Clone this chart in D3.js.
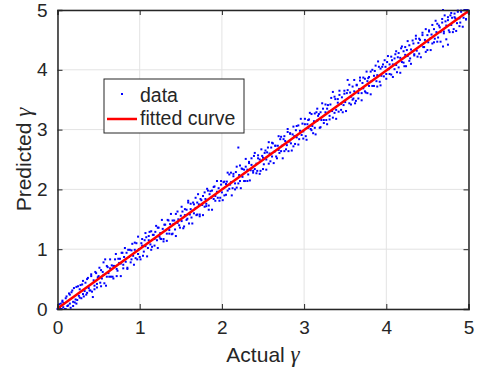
<!DOCTYPE html>
<html>
<head>
<meta charset="utf-8">
<script src="https://cdn.jsdelivr.net/npm/d3@7"></script>
<style>
  body { margin: 0; background: #fff; }
  text { font-family: "Liberation Sans", Arial, sans-serif; fill: #262626; }
</style>
</head>
<body>
<div id="chart"></div>
<script>
// scatter data (two passes over the band, by half-unit of actual γ)
const actualVals = [
  0.00,0.01,0.02,0.02,0.03,0.05,0.06,0.07,0.08,0.10,0.11,0.12,0.14,0.15,0.16,0.18,0.19,0.20,0.22,0.23,0.25,0.26,0.27,0.29,0.30,0.31,0.33,0.34,0.36,0.37,0.38,0.40,0.41,0.43,0.44,0.45,0.47,0.48,0.49,
  0.50,0.52,0.53,0.54,0.56,0.57,0.58,0.60,0.61,0.62,0.64,0.65,0.66,0.68,0.69,0.70,0.72,0.73,0.75,0.76,0.77,0.79,0.80,0.81,0.83,0.84,0.85,0.87,0.88,0.90,0.91,0.92,0.94,0.95,0.96,0.98,0.99,
  1.00,1.02,1.03,1.04,1.06,1.07,1.08,1.10,1.11,1.13,1.14,1.15,1.17,1.18,1.19,1.21,1.22,1.24,1.25,1.26,1.28,1.29,1.30,1.32,1.33,1.35,1.36,1.37,1.39,1.40,1.41,1.43,1.44,1.46,1.47,1.48,
  1.50,1.51,1.52,1.54,1.55,1.57,1.58,1.59,1.61,1.62,1.63,1.65,1.66,1.68,1.69,1.70,1.72,1.73,1.74,1.76,1.77,1.79,1.80,1.81,1.83,1.84,1.85,1.87,1.88,1.90,1.91,1.92,1.94,1.95,1.96,1.98,1.99,
  2.00,2.02,2.03,2.05,2.06,2.07,2.09,2.10,2.11,2.13,2.14,2.16,2.17,2.18,2.20,2.21,2.22,2.24,2.25,2.27,2.28,2.29,2.31,2.32,2.33,2.35,2.36,2.38,2.39,2.40,2.42,2.43,2.44,2.46,2.47,2.49,
  2.50,2.51,2.53,2.54,2.55,2.57,2.58,2.60,2.61,2.62,2.64,2.65,2.66,2.68,2.69,2.71,2.72,2.73,2.75,2.76,2.77,2.79,2.80,2.82,2.83,2.84,2.86,2.87,2.88,2.90,2.91,2.93,2.94,2.95,2.97,2.98,2.99,
  3.01,3.02,3.04,3.05,3.06,3.08,3.09,3.10,3.12,3.13,3.15,3.16,3.17,3.19,3.20,3.21,3.23,3.24,3.26,3.27,3.28,3.30,3.31,3.32,3.34,3.35,3.37,3.38,3.39,3.41,3.42,3.43,3.45,3.46,3.48,3.49,
  3.50,3.52,3.53,3.55,3.56,3.57,3.59,3.60,3.61,3.63,3.64,3.66,3.67,3.68,3.70,3.71,3.72,3.74,3.75,3.77,3.78,3.79,3.81,3.82,3.83,3.85,3.86,3.88,3.89,3.90,3.92,3.93,3.94,3.96,3.97,3.99,
  4.00,4.01,4.03,4.04,4.06,4.07,4.08,4.10,4.11,4.12,4.14,4.15,4.17,4.18,4.19,4.21,4.22,4.23,4.25,4.26,4.28,4.29,4.30,4.32,4.33,4.34,4.36,4.37,4.39,4.40,4.41,4.43,4.44,4.45,4.47,4.48,
  4.50,4.51,4.52,4.54,4.55,4.56,4.58,4.59,4.61,4.62,4.63,4.65,4.66,4.68,4.69,4.69,4.70,4.72,4.73,4.75,4.75,4.76,4.78,4.79,4.80,4.82,4.83,4.84,4.86,4.87,4.89,4.90,4.91,4.93,4.94,4.96,4.97,4.98,5.00
];
const predictedVals = [
  0.00,0.04,0.00,0.08,0.02,0.00,0.12,0.03,0.10,0.00,0.21,0.05,0.26,0.09,0.02,0.31,0.12,0.35,0.16,0.09,0.38,0.22,0.33,0.18,0.41,0.25,0.30,0.44,0.27,0.52,0.35,0.31,0.55,0.20,0.48,0.39,0.60,0.42,0.53,
  0.55,0.44,0.65,0.51,0.57,0.43,0.83,0.54,0.70,0.60,0.68,0.54,0.73,0.51,0.72,0.83,0.67,0.64,0.77,0.84,0.76,0.94,0.68,0.87,0.79,0.94,0.69,0.87,0.99,0.83,1.09,0.89,0.99,0.85,1.10,0.92,1.00,
  0.87,1.10,1.06,0.89,1.15,1.05,1.20,1.02,1.15,1.08,1.30,1.04,1.24,1.17,1.29,1.15,1.36,1.21,1.27,1.17,1.34,1.17,1.41,1.32,1.26,1.48,1.32,1.42,1.25,1.48,1.42,1.33,1.59,1.44,1.50,1.40,
  1.56,1.47,1.63,1.38,1.57,1.66,1.51,1.78,1.58,1.67,1.53,1.78,1.60,1.69,1.57,1.78,1.75,1.55,1.84,1.74,1.89,1.71,1.84,1.76,1.98,1.73,1.92,1.86,1.98,1.84,2.05,1.89,1.96,1.86,2.02,1.86,2.08,
  1.95,2.12,1.90,2.09,2.13,1.98,2.25,2.08,2.12,2.02,2.22,2.10,2.29,2.03,2.70,2.24,2.14,2.35,2.21,2.33,2.14,2.38,2.33,2.25,2.46,2.32,2.41,2.28,2.56,2.34,2.43,2.31,2.52,2.50,2.31,2.56,
  2.53,2.42,2.65,2.50,2.62,2.43,2.60,2.70,2.55,2.77,2.63,2.73,2.55,2.73,2.66,2.84,2.64,2.73,2.84,2.64,2.81,2.74,2.96,2.80,2.94,2.77,2.92,2.72,2.89,2.99,2.87,3.07,2.84,2.98,2.91,3.10,2.97,
  3.09,2.89,3.09,3.03,3.17,3.01,3.26,3.06,3.14,3.03,3.29,3.15,3.23,3.03,3.29,3.16,3.35,3.16,3.29,3.16,3.35,3.30,3.17,3.42,3.31,3.63,3.28,3.51,3.33,3.45,3.30,3.58,3.43,3.54,3.41,3.60,
  3.46,3.61,3.83,3.44,3.62,3.55,3.72,3.52,3.64,3.48,3.74,3.61,3.68,3.82,3.61,3.78,3.69,3.85,3.62,3.81,3.86,3.73,3.97,3.81,3.73,3.90,3.98,3.81,3.91,4.14,3.80,4.02,3.90,4.09,3.89,4.05,
  3.93,4.13,4.01,4.09,3.92,4.16,4.09,4.01,4.26,4.08,4.21,4.04,4.20,4.36,4.13,4.31,4.06,4.25,4.33,4.23,4.41,4.19,4.34,4.31,4.44,4.26,4.52,4.32,4.45,4.27,4.50,4.41,4.58,4.38,4.50,4.30,
  4.58,4.46,4.64,4.53,4.59,4.44,4.68,4.52,4.63,4.77,4.54,4.71,4.63,4.79,4.39,5.00,4.64,4.81,4.74,4.42,4.83,4.66,4.91,4.75,4.87,4.68,4.88,4.86,4.78,4.97,4.86,4.79,4.97,4.92,4.87,5.00,4.85,5.00,4.95
];
const actualVals2 = [
  0.01,0.03,0.04,0.06,0.09,0.10,0.13,0.15,0.17,0.19,0.21,0.23,0.24,0.27,0.28,0.31,0.32,0.35,0.36,0.39,0.41,0.42,0.45,0.46,0.48,
  0.51,0.53,0.55,0.56,0.59,0.60,0.63,0.64,0.67,0.68,0.71,0.72,0.74,0.77,0.78,0.80,0.82,0.85,0.86,0.89,0.90,0.93,0.94,0.97,0.98,
  1.01,1.03,1.05,1.07,1.09,1.11,1.12,1.14,1.16,1.18,1.20,1.22,1.23,1.25,1.27,1.29,1.31,1.33,1.34,1.36,1.38,1.40,1.42,1.44,1.46,
  1.49,1.51,1.53,1.55,1.57,1.59,1.60,1.62,1.64,1.66,1.68,1.70,1.71,1.73,1.75,1.77,1.79,1.81,1.82,1.84,1.86,1.88,1.90,1.92,1.94,1.97,
  1.99,2.01,2.03,2.05,2.07,2.09,2.11,2.12,2.14,2.16,2.18,2.20,2.22,2.23,2.25,2.27,2.29,2.31,2.33,2.34,2.36,2.38,2.40,2.42,2.44,2.46,
  2.48,2.50,2.52,2.54,2.56,2.57,2.59,2.61,2.63,2.65,2.67,2.69,2.70,2.72,2.74,2.76,2.78,2.80,2.81,2.83,2.85,2.87,2.89,2.91,2.93,2.96,
  2.99,3.01,3.03,3.05,3.07,3.09,3.11,3.13,3.14,3.16,3.18,3.20,3.22,3.24,3.26,3.28,3.29,3.31,3.33,3.35,3.37,3.39,3.41,3.43,3.45,3.47,
  3.49,3.51,3.53,3.55,3.57,3.59,3.61,3.62,3.64,3.66,3.68,3.70,3.72,3.74,3.76,3.77,3.79,3.81,3.83,3.85,3.87,3.89,3.91,3.93,3.95,3.98,
  4.00,4.02,4.04,4.06,4.08,4.10,4.12,4.13,4.15,4.17,4.19,4.21,4.23,4.24,4.26,4.28,4.30,4.32,4.34,4.36,4.38,4.40,4.42,4.44,4.46,4.48,
  4.50,4.52,4.54,4.56,4.58,4.60,4.62,4.64,4.66,4.68,4.70,4.71,4.73,4.75,4.77,4.79,4.81,4.83,4.85,4.87,4.89,4.91,4.93,4.95,4.97,4.99
];
const predictedVals2 = [
  0.02,0.00,0.09,0.14,0.00,0.18,0.06,0.24,0.28,0.05,0.11,0.37,0.15,0.19,0.40,0.47,0.21,0.24,0.50,0.31,0.58,0.29,0.33,0.62,0.36,
  0.69,0.38,0.62,0.78,0.39,0.72,0.54,0.83,0.54,0.72,0.92,0.55,0.84,0.55,0.94,0.74,1.02,0.67,0.99,0.78,0.98,0.74,1.11,0.83,1.21,
  0.83,1.17,0.96,1.27,0.88,1.22,1.29,0.99,1.24,1.06,1.39,1.02,1.36,1.18,1.49,1.13,1.41,1.14,1.49,1.26,1.59,1.26,1.48,1.22,1.63,
  1.36,1.71,1.35,1.67,1.49,1.81,1.43,1.76,1.43,1.75,1.86,1.58,1.92,1.58,1.82,1.57,1.95,1.72,2.01,1.66,1.97,1.66,2.04,1.81,2.14,1.81,
  2.14,1.82,2.13,1.91,2.28,2.01,2.28,1.90,2.26,2.00,2.38,2.10,2.40,2.02,2.34,2.14,2.51,2.14,2.44,2.15,2.52,2.31,2.61,2.27,2.57,2.26,
  2.67,2.34,2.61,2.33,2.70,2.79,2.47,2.78,2.44,2.73,2.52,2.89,2.61,2.88,2.52,2.89,2.67,3.01,2.64,2.93,2.65,3.05,2.76,3.06,2.75,3.18,
  2.85,3.18,2.83,3.16,3.28,2.99,2.94,3.27,2.92,3.35,3.26,3.04,3.44,3.11,3.42,3.09,3.41,3.23,3.53,3.20,3.55,3.18,3.51,3.65,3.33,3.29,
  3.65,3.31,3.66,3.75,3.42,3.50,3.83,3.44,3.75,3.52,3.87,3.49,3.87,3.64,3.97,3.61,3.88,3.59,4.00,3.73,4.07,3.72,4.05,3.74,4.05,4.16,
  3.85,4.23,3.93,4.22,3.88,4.19,4.31,3.96,4.28,3.95,4.39,4.12,4.38,4.06,4.48,4.15,4.10,4.49,4.24,4.57,4.22,4.52,4.21,4.62,4.38,4.68,
  4.33,4.66,4.33,4.75,4.46,4.82,4.47,4.74,4.47,4.85,4.61,4.91,4.51,4.88,4.63,4.95,4.63,4.94,4.65,4.99,4.73,4.99,4.72,5.00,4.84,5.00
];
// fitted line end points
const fitX = [0, 5];
const fitY = [0.01, 4.985];
const tickVals = [0, 1, 2, 3, 4, 5];
const legendLabels = ["data", "fitted curve"];

const W = 477, H = 370;
const margin = { top: 10, right: 8.5, bottom: 61, left: 57.5 };
const iw = W - margin.left - margin.right;
const ih = H - margin.top - margin.bottom;

const svg = d3.select("#chart").append("svg")
  .attr("width", W).attr("height", H);

const x = d3.scaleLinear().domain([0, 5]).range([0, iw]);
const y = d3.scaleLinear().domain([0, 5]).range([ih, 0]);

const g = svg.append("g")
  .attr("transform", "translate(" + margin.left + "," + margin.top + ")");

// grid
const grid = g.append("g").attr("class", "grid");
grid.selectAll("line.gx").data(tickVals).enter().append("line")
  .attr("x1", d => x(d)).attr("x2", d => x(d))
  .attr("y1", 0).attr("y2", ih);
grid.selectAll("line.gy").data(tickVals).enter().append("line")
  .attr("y1", d => y(d)).attr("y2", d => y(d))
  .attr("x1", 0).attr("x2", iw);
grid.selectAll("line").attr("stroke", "#e3e3e3").attr("stroke-width", 1);

// scatter
const pts = actualVals.map((a, i) => [a, predictedVals[i]])
  .concat(actualVals2.map((a, i) => [a, predictedVals2[i]]));
g.append("g").selectAll("rect").data(pts).enter().append("rect")
  .attr("x", d => x(d[0]) - 1)
  .attr("y", d => y(d[1]) - 1)
  .attr("width", 2).attr("height", 2)
  .attr("fill", "#0000ff");

// fitted curve
const line = d3.line().x(d => x(d[0])).y(d => y(d[1]));
g.append("path")
  .datum(fitX.map((v, i) => [v, fitY[i]]))
  .attr("d", line)
  .attr("fill", "none")
  .attr("stroke", "#ff0000")
  .attr("stroke-width", 2.5);

// axes (MATLAB style, ticks inward)
const xAxis = g.append("g")
  .attr("transform", "translate(0," + ih + ")")
  .call(d3.axisBottom(x).tickValues(tickVals).tickSize(-5).tickPadding(12).tickFormat(d3.format("d")));
const xTop = g.append("g")
  .call(d3.axisTop(x).tickValues(tickVals).tickSize(-5).tickFormat(""));
const yAxis = g.append("g")
  .call(d3.axisLeft(y).tickValues(tickVals).tickSize(-5).tickPadding(10).tickFormat(d3.format("d")));
const yRight = g.append("g")
  .attr("transform", "translate(" + iw + ",0)")
  .call(d3.axisRight(y).tickValues(tickVals).tickSize(-5).tickFormat(""));

[xAxis, xTop, yAxis, yRight].forEach(a => {
  a.select(".domain").attr("stroke", "#262626").attr("stroke-width", 1.5);
  a.selectAll(".tick line").attr("stroke", "#262626").attr("stroke-width", 1);
  a.selectAll("text").attr("font-size", 19).attr("fill", "#262626")
    .attr("font-family", "Liberation Sans, Arial, sans-serif");
});

// axis labels
const xl = svg.append("text")
  .attr("x", margin.left + iw / 2).attr("y", 362)
  .attr("text-anchor", "middle").attr("font-size", 21);
xl.append("tspan").text("Actual ");
xl.append("tspan").text("γ").attr("font-family", "Liberation Serif, serif").attr("font-style", "italic").attr("font-size", 23);

const yl = svg.append("text")
  .attr("transform", "translate(31," + (margin.top + ih / 2) + ") rotate(-90)")
  .attr("text-anchor", "middle").attr("font-size", 21);
yl.append("tspan").text("Predicted ");
yl.append("tspan").text("γ").attr("font-family", "Liberation Serif, serif").attr("font-style", "italic").attr("font-size", 23);

// legend
const lg = svg.append("g").attr("transform", "translate(104,79)");
lg.append("rect")
  .attr("width", 140).attr("height", 54)
  .attr("fill", "#fff").attr("stroke", "#262626").attr("stroke-width", 1);
lg.append("rect")
  .attr("x", 17).attr("y", 14).attr("width", 2).attr("height", 2)
  .attr("fill", "#0000ff");
lg.append("line")
  .attr("x1", 3).attr("x2", 33).attr("y1", 40).attr("y2", 40)
  .attr("stroke", "#ff0000").attr("stroke-width", 2.5);
lg.selectAll("text.lbl").data(legendLabels).enter().append("text")
  .attr("class", "lbl")
  .attr("x", 36).attr("y", (d, i) => 23 + i * 23)
  .attr("font-size", 19.5).attr("fill", "#000")
  .text(d => d);
</script>
</body>
</html>
